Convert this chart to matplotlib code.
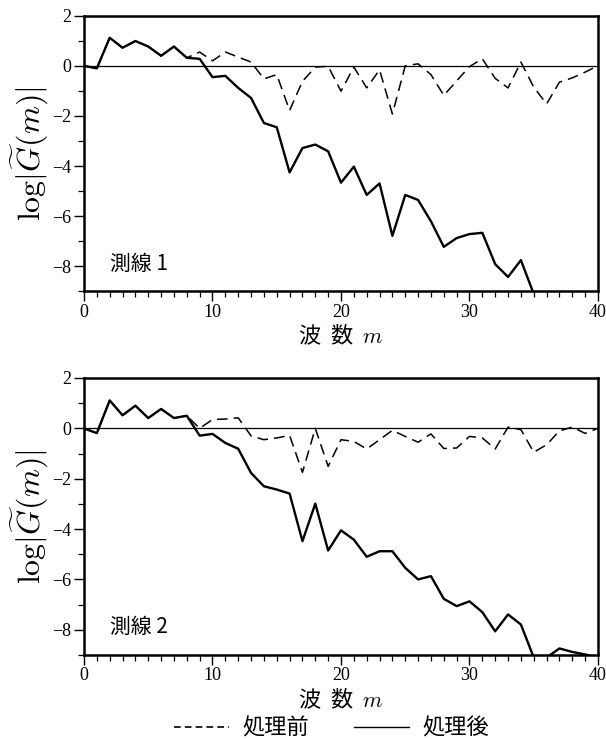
import numpy as np
import matplotlib
matplotlib.use("Agg")
import matplotlib.pyplot as plt
from matplotlib.lines import Line2D

plt.rcParams['mathtext.fontset'] = 'cm'
plt.rcParams['font.family'] = ['Liberation Serif', 'Noto Sans CJK JP']

# wave number m = 0 .. 40
m = np.arange(0, 41)

# line 1 (測線 1)
before1 = [0.0, -0.1, 1.12, 0.72, 0.99, 0.77, 0.4, 0.77, 0.32, 0.55,
           0.2, 0.55, 0.35, 0.15, -0.52, -0.35, -1.78, -0.62, -0.05, -0.02,
           -1.01, -0.05, -0.88, -0.16, -1.92, 0.0, 0.08, -0.35, -1.18, -0.6,
           -0.03, 0.28, -0.5, -0.88, 0.15, -0.85, -1.52, -0.65, -0.48, -0.25,
           0.0]
after1 = [0.0, -0.1, 1.12, 0.72, 0.99, 0.77, 0.4, 0.77, 0.32, 0.28,
          -0.45, -0.4, -0.88, -1.28, -2.28, -2.45, -4.25, -3.28, -3.14, -3.41,
          -4.66, -4.02, -5.15, -4.69, -6.78, -5.15, -5.35, -6.2, -7.22, -6.87,
          -6.71, -6.66, -7.91, -8.42, -7.75, -9.1]

# line 2 (測線 2)
before2 = [0.0, -0.19, 1.11, 0.52, 0.9, 0.41, 0.77, 0.41, 0.5, 0.0,
           0.35, 0.37, 0.42, -0.3, -0.45, -0.38, -0.28, -1.75, 0.0, -1.51,
           -0.45, -0.52, -0.82, -0.45, -0.08, -0.32, -0.55, -0.22, -0.8, -0.78,
           -0.32, -0.38, -0.82, 0.05, -0.05, -0.95, -0.65, -0.1, 0.05, -0.2,
           0.0]
after2 = [0.0, -0.19, 1.11, 0.52, 0.9, 0.41, 0.77, 0.41, 0.5, -0.29,
          -0.22, -0.58, -0.81, -1.77, -2.3, -2.43, -2.59, -4.48, -2.99, -4.85,
          -4.05, -4.42, -5.1, -4.88, -4.88, -5.54, -6.0, -5.87, -6.77, -7.06,
          -6.87, -7.3, -8.06, -7.39, -7.79, -9.1, -9.1, -8.74, -8.88, -8.98,
          -9.1]

panels = [(before1, after1, '測線 1'), (before2, after2, '測線 2')]
positions = [[0.1386, 0.6061, 0.8482, 0.3727],
             [0.1386, 0.1149, 0.8482, 0.3743]]

dash = (0, (7, 4))
cjk = ['Noto Sans CJK JP', 'DejaVu Sans']

fig = plt.figure(figsize=(6.06, 7.40), dpi=100)

for (before, after, name), pos in zip(panels, positions):
    ax = fig.add_axes(pos)
    ax.axhline(0, color='black', lw=0.9)
    ax.plot(m[:len(before)], before, color='black', lw=1.1, linestyle=dash)
    ax.plot(m[:len(after)], after, color='black', lw=1.7)
    ax.set_xlim(0, 40)
    ax.set_ylim(-9, 2)
    ax.set_xticks([0, 10, 20, 30, 40])
    ax.set_xticks(np.arange(0, 41, 1), minor=True)
    ax.set_yticks([-8, -6, -4, -2, 0, 2])
    ax.set_yticks(np.arange(-9, 3, 1), minor=True)
    ax.tick_params(which='major', direction='out', length=7, width=1.0,
                   labelsize=13, pad=2)
    ax.tick_params(which='minor', direction='out', length=4, width=0.9)
    for s in ax.spines.values():
        s.set_linewidth(1.8)
    ax.set_xlabel('波  数  $m$', fontsize=16, family=cjk, labelpad=2)
    ax.set_ylabel(r'$\log|\widetilde{G}(m)|$', fontsize=23, labelpad=2)
    ax.text(0.05, 0.1, name, transform=ax.transAxes, fontsize=15,
            family=cjk, va='center', ha='left')

handles = [Line2D([], [], color='black', lw=1.2, linestyle=(0, (4, 2.5))),
           Line2D([], [], color='black', lw=1.0)]
fig.legend(handles, ['処理前', '処理後'], loc='center', ncol=2,
           bbox_to_anchor=(0.547, 1 - 728 / 740), frameon=False,
           prop={'family': cjk, 'size': 16}, handlelength=2.5,
           handletextpad=0.6, columnspacing=2.0)

fig.savefig('out.png', dpi=100)
